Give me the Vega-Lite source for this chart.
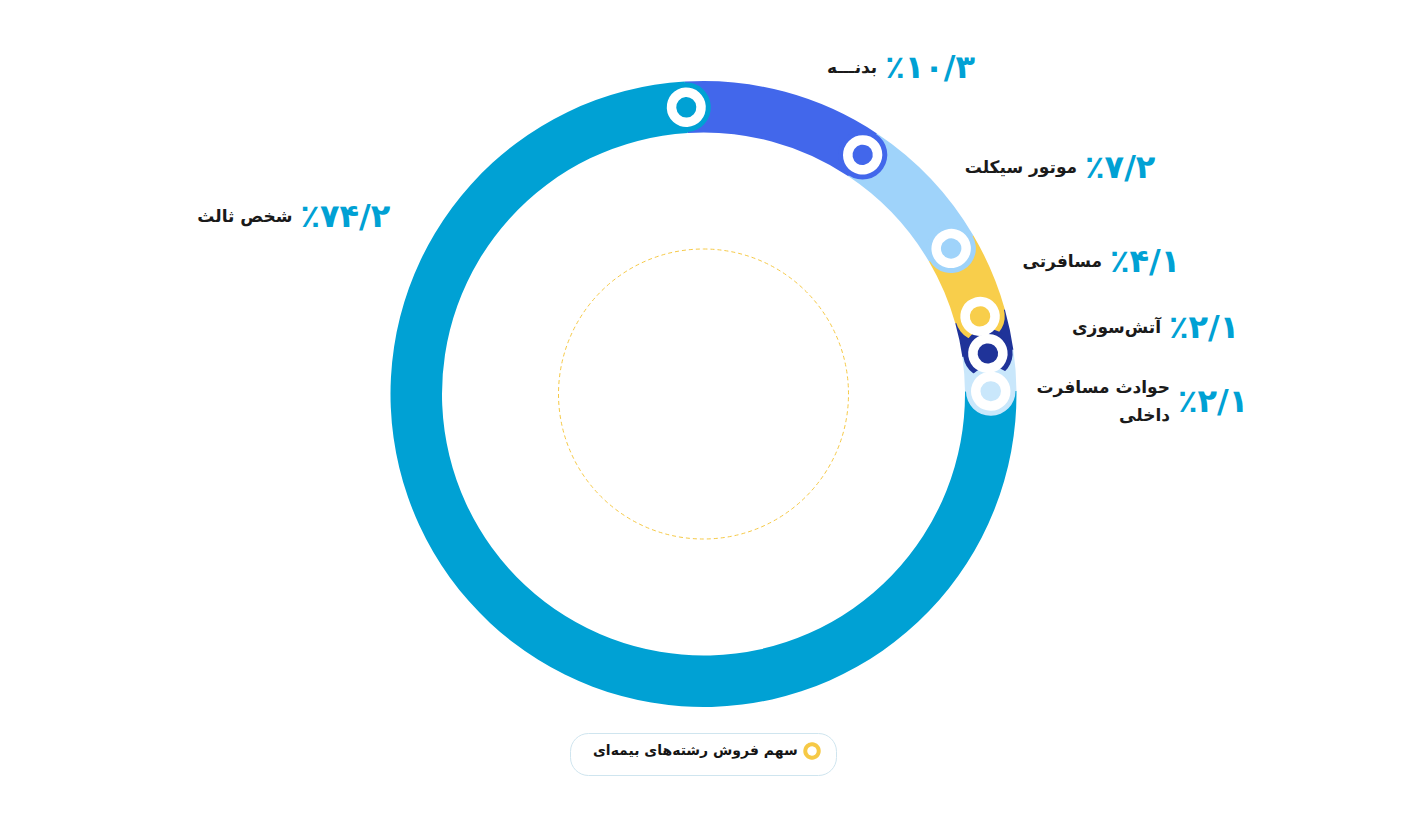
{
  "$schema": "https://vega.github.io/schema/vega-lite/v6.json",
  "width": 1397,
  "height": 678,
  "autosize": {"type": "none"},
  "padding": {"left": 5, "top": 55, "right": 0, "bottom": 81},
  "background": "white",
  "config": {"view": {"stroke": null}, "font": "DejaVu Sans"},
  "datasets": {
    "shares": [
      {"name": "بدنـــه", "value": 10.3, "order": 1, "pct": "٪۱۰/۳"},
      {"name": "موتور سیکلت", "value": 7.2, "order": 2, "pct": "٪۷/۲"},
      {"name": "مسافرتی", "value": 4.1, "order": 3, "pct": "٪۴/۱"},
      {"name": "آتش‌سوزی", "value": 2.1, "order": 4, "pct": "٪۲/۱"},
      {"name": "حوادث مسافرت\nداخلی", "value": 2.1, "order": 5, "pct": "٪۲/۱"},
      {"name": "شخص ثالث", "value": 74.2, "order": 6, "pct": "٪۷۴/۲"}
    ]
  },
  "data": {"name": "shares"},
  "transform": [
    {"stack": "value", "groupby": [], "as": ["v0", "v1"], "sort": [{"field": "order", "order": "ascending"}]}
  ],
  "resolve": {"scale": {"theta": "independent", "radius": "independent"}},
  "layer": [
    {
      "data": {"values": [{"series": "سهم فروش رشته‌های بیمه‌ای"}]},
      "mark": {"type": "arc", "theta": 0, "theta2": 6.2832, "radius": 145, "fill": "white", "fillOpacity": 0, "strokeWidth": 1, "strokeDash": [4, 3]},
      "encoding": {
        "stroke": {
          "field": "series",
          "type": "nominal",
          "scale": {"range": ["#F6C945"]},
          "legend": {
            "title": null,
            "orient": "none",
            "legendX": 565,
            "legendY": 678,
            "padding": 9,
            "cornerRadius": 18,
            "strokeColor": "#CFE5EF",
            "fillColor": "white",
            "symbolType": "circle",
            "symbolSize": 180,
            "symbolStrokeWidth": 4,
            "symbolFillColor": "white",
            "symbolDash": [1, 0],
            "symbolOffset": 224,
            "labelOffset": -228,
            "labelLimit": 400,
            "labelFontSize": 14,
            "labelFontWeight": "bold",
            "labelColor": "#151515",
            "labelFont": "DejaVu Sans",
            "encode": {
              "legend": {"update": {"strokeWidth": {"value": 2}}},
              "symbols": {"update": {"fill": {"value": "white"}, "strokeOpacity": {"value": 1}}}
            }
          }
        }
      }
    },
    {
      "mark": {"type": "arc", "radius": 313, "radius2": 261.5},
      "encoding": {
        "theta": {"field": "v0", "type": "quantitative", "stack": null, "scale": {"domain": [0, 100], "range": [-0.06, 6.2232]}},
        "theta2": {"field": "v1"},
        "color": {
          "field": "name",
          "type": "nominal",
          "scale": {
            "domain": ["بدنـــه", "موتور سیکلت", "مسافرتی", "آتش‌سوزی", "حوادث مسافرت\nداخلی", "شخص ثالث"],
            "range": ["#4267EB", "#9FD3FA", "#F8CE4B", "#1F3399", "#C9E7FB", "#00A1D4"]
          },
          "legend": null
        }
      }
    },
    {
      "mark": {"type": "arc", "filled": false, "radius": 287.5, "radius2": 287, "strokeWidth": 49, "strokeJoin": "round", "strokeCap": "round"},
      "encoding": {
        "theta": {"field": "v1", "type": "quantitative", "stack": null, "scale": {"domain": [0, 100], "range": [-0.06, 6.2232]}},
        "theta2": {"field": "v1"},
        "color": {"field": "name", "type": "nominal", "legend": null}
      }
    },
    {
      "mark": {"type": "arc", "filled": false, "radius": 287.5, "radius2": 287, "strokeWidth": 39, "strokeJoin": "round", "strokeCap": "round", "stroke": "white"},
      "encoding": {
        "theta": {"field": "v1", "type": "quantitative", "stack": null, "scale": {"domain": [0, 100], "range": [-0.06, 6.2232]}},
        "theta2": {"field": "v1"}
      }
    },
    {
      "mark": {"type": "arc", "filled": false, "radius": 287.5, "radius2": 287, "strokeWidth": 20, "strokeJoin": "round", "strokeCap": "round"},
      "encoding": {
        "theta": {"field": "v1", "type": "quantitative", "stack": null, "scale": {"domain": [0, 100], "range": [-0.06, 6.2232]}},
        "theta2": {"field": "v1"},
        "color": {"field": "name", "type": "nominal", "legend": null}
      }
    },
    {
      "mark": {"type": "text", "align": "left", "baseline": "middle", "dx": 4, "fontSize": 32, "fontWeight": "bold", "color": "#00A1D4"},
      "encoding": {
        "theta": {"field": "order", "type": "quantitative", "stack": null, "scale": {"domain": [1, 2, 3, 4, 5, 6], "range": [0.499, 1.0316, 1.2539, 1.4288, 1.5877, 5.1226]}},
        "radius": {"field": "order", "type": "quantitative", "scale": {"type": "linear", "zero": false, "domain": [1, 2, 3, 4, 5, 6], "range": [371.4, 440, 423.6, 466.2, 470.6, 443.8]}},
        "text": {"field": "pct"}
      }
    },
    {
      "mark": {"type": "text", "align": "right", "baseline": "middle", "dx": -4, "fontSize": 17, "fontWeight": "bold", "color": "#1A1A1A", "lineBreak": "\n", "lineHeight": 28},
      "encoding": {
        "theta": {"field": "order", "type": "quantitative", "stack": null, "scale": {"domain": [1, 2, 3, 4, 5, 6], "range": [0.499, 1.0316, 1.2539, 1.4288, 1.558, 5.1226]}},
        "radius": {"field": "order", "type": "quantitative", "scale": {"type": "linear", "zero": false, "domain": [1, 2, 3, 4, 5, 6], "range": [371.4, 440, 423.6, 466.2, 470.5, 443.8]}},
        "text": {"field": "name"}
      }
    }
  ]
}
